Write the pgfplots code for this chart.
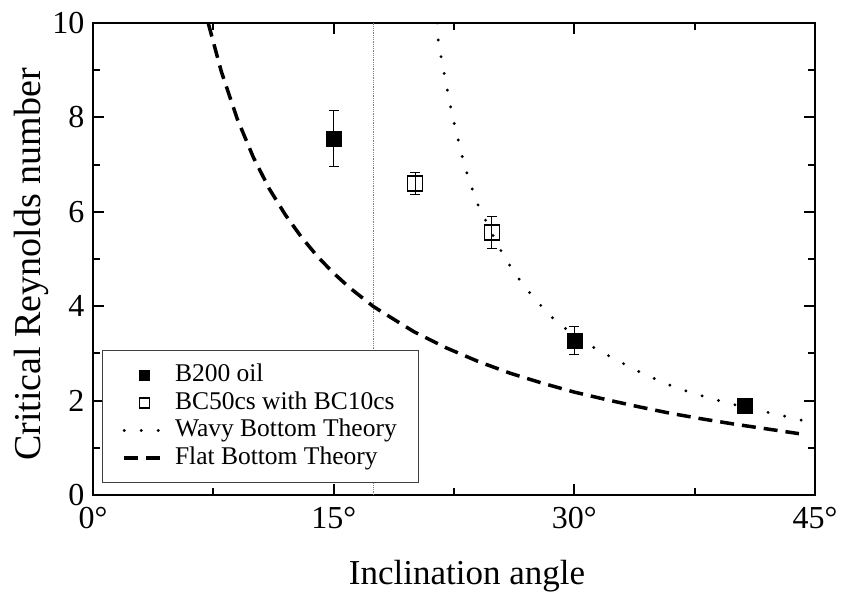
\documentclass[border=0pt]{standalone}
\usepackage{fontspec}
\setmainfont{Liberation Serif}
\usepackage{pgfplots}
\pgfplotsset{compat=1.18}
\begin{document}
\begin{tikzpicture}
\useasboundingbox (-93pt,-99pt) rectangle (748pt,495pt);
\begin{axis}[
  at={(0pt,0pt)}, anchor=south west,
  scale only axis, width=722pt, height=472pt,
  xmin=0, xmax=45, ymin=0, ymax=10,
  xtick={0,15,30,45}, minor xtick={7.5,22.5,37.5},
  ytick={0,2,4,6,8,10}, minor ytick={1,3,5,7,9},
  /pgf/number format/assume math mode=true,
  xticklabel={\pgfmathprintnumber{\tick}°},
  yticklabel={\pgfmathprintnumber{\tick}},
  tick label style={font=\fontsize{32}{32}\selectfont},
  xticklabel style={yshift=-9pt},
  yticklabel style={xshift=-5pt},
  axis line style={line width=2.5pt},
  major tick length=11pt, minor tick length=7pt,
  every tick/.style={line width=2pt, black},
  xlabel={Inclination angle},
  ylabel={Critical Reynolds number},
  xlabel style={font=\fontsize{35}{35}\selectfont, at={(axis description cs:0.518,-0.1886)}, anchor=base},
  ylabel style={font=\fontsize{38}{38}\selectfont, at={(axis description cs:-0.0734,0.488)}, anchor=base},
  legend style={at={(axis description cs:0.0125,0.025)}, anchor=south west,
    draw=black!75, line width=1pt, fill=white,
    font=\fontsize{25.5}{25.5}\selectfont,
    inner xsep=20pt, inner ysep=11pt, row sep=0pt, column sep=6pt,
    nodes={text height=18pt, text depth=5.5pt, inner ysep=2pt}},
  legend cell align=left,
  legend image code/.code={\draw[mark repeat=2,mark phase=2,#1] plot coordinates {(0pt,0pt) (20.5pt,0pt) (41pt,0pt)};},
  legend image post style={mark size=5pt},
]
% thin vertical reference line
\addplot[gray, densely dotted, line width=0.8pt, forget plot] coordinates {(17.45,0) (17.45,10)};

% B200 oil
\addplot[only marks, black, mark=square*, mark size=7.5pt,
  error bars/.cd, y dir=both, y explicit,
  error bar style={line width=1pt, black},
  error mark options={rotate=90, mark size=5pt, line width=1pt, black}]
  coordinates {(15,7.55) +- (0,0.6) (30,3.27) +- (0,0.29) (40.6,1.89) +- (0,0.1)};
\addlegendentry{B200 oil}

% BC50cs with BC10cs
\addplot[only marks, black, mark=square, mark size=7.5pt, mark options={line width=1.3pt, fill=white},
  error bars/.cd, y dir=both, y explicit,
  error bar style={line width=1pt, black},
  error mark options={rotate=90, mark size=5pt, line width=1pt, black}]
  coordinates {(20.07,6.6) +- (0,0.23) (24.85,5.56) +- (0,0.34)};
\addlegendentry{BC50cs with BC10cs}

% Wavy bottom theory
\addplot[black, line width=3.2pt, line cap=round, dash pattern=on 0pt off 17pt] coordinates {
(21.45,10) (21.53,9.60) (21.72,9.24) (21.91,8.89) (22.11,8.54) (22.31,8.19)
(22.53,7.85) (22.77,7.51) (23.03,7.15) (23.33,6.79) (23.67,6.45) (24.05,6.10)
(24.5,5.80) (25.0,5.45) (25.58,5.08) (26.25,4.72) (27.0,4.37) (27.87,4.03)
(28.8,3.70) (29.85,3.42) (30.88,3.19) (31.92,2.99) (32.96,2.80) (34.0,2.62)
(35.04,2.46) (36.0,2.32) (37.0,2.20) (38.05,2.09) (39.1,1.99) (40.6,1.86)
(42.2,1.74) (43.25,1.66) (44.2,1.58) (45,1.53)};
\addlegendentry{Wavy Bottom Theory}

% Flat bottom theory
\addplot[black, line width=3.5pt, dash pattern=on 14pt off 8pt] coordinates {
(7.18,10) (8,8.97) (9,7.96) (10,7.15) (11,6.48) (12,5.93) (13,5.46) (14,5.05)
(15,4.70) (16,4.39) (17.45,4.00) (18,3.88) (20,3.46) (22,3.12) (24,2.83)
(26,2.58) (28,2.37) (30,2.18) (32,2.02) (34,1.87) (36,1.73) (38,1.61)
(40,1.50) (42,1.40) (44,1.30)};
\addlegendentry{Flat Bottom Theory}
\end{axis}
\end{tikzpicture}
\end{document}
